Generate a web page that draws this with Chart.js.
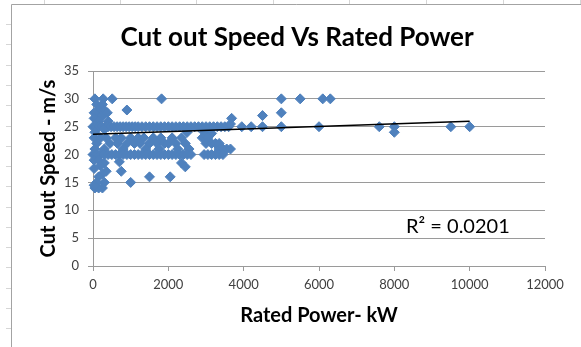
<!DOCTYPE html>
<html>
<head>
<meta charset="utf-8">
<script src="https://cdn.jsdelivr.net/npm/chart.js@4.4.1/dist/chart.umd.min.js"></script>
<style>
html, body { margin: 0; padding: 0; background: #fff; }
canvas { display: block; }
</style>
</head>
<body>
<canvas id="chartCutOut" width="581" height="347"></canvas>
<script>
// turbine rated power (kW) and cut-out wind speed (m/s), one entry per turbine
const ratedPower = [
  50, 270, 510, 1820, 5000, 5500, 6100, 6300,
  100, 250, 150, 300, 100, 250, 380, 900, 30, 30, 400, 150,
  0, 80, 160, 240, 320, 400, 480, 560, 640, 720, 800, 880, 960, 1040, 1120, 1200, 1300, 1400, 1500, 1600,
  1700, 1800, 1900, 2000, 2100, 2200, 2300, 2400, 2500, 2600, 2700, 2800, 2900, 3000, 3100, 3200, 3300, 3400, 3500, 3600,
  3680, 3650, 3950, 4200, 4500, 4500, 5000, 5000, 6000, 7600, 8000, 8000, 9500, 10000,
  50, 300, 2500, 2950, 3150,
  30, 200, 350, 600, 750, 1000, 1200, 1350, 1600, 1800, 2100, 2350, 2900, 3050,
  100, 450, 650, 900, 1100, 1250, 1500, 1700, 1900, 2000, 2200, 2450, 3000, 3150, 3250, 3350,
  50, 300, 800, 1400, 1750, 2250, 2550, 3350, 3450, 3550, 3650,
  0, 100, 200, 300, 400, 500, 600, 700, 800, 900, 1000, 1100, 1200, 1300, 1400, 1500, 1600,
  1700, 1800, 1900, 2000, 2100, 2200, 2300, 2400, 2500, 2600, 2950, 3050, 3150, 3250, 3350, 3450,
  30, 150, 300, 700, 2350, 2450, 200, 30, 750, 350, 250, 1500, 2050, 150, 1000, 300, 100, 50, 150, 250, 30
];
const cutOutSpeed = [
  30, 30, 30, 30, 30, 30, 30, 30,
  29, 29, 28, 28, 27, 27, 27.5, 28, 27.5, 26.5, 26, 26,
  25, 25, 25, 25, 25, 25, 25, 25, 25, 25, 25, 25, 25, 25, 25, 25, 25, 25, 25, 25,
  25, 25, 25, 25, 25, 25, 25, 25, 25, 25, 25, 25, 25, 25, 25, 25, 25, 25, 25, 25,
  26.5, 25.5, 25, 25, 25, 27, 25, 27.5, 25, 25, 25, 24, 25, 25,
  24, 24.5, 24, 24, 23.8,
  23, 23, 23, 23, 23, 23, 23, 23, 23, 23, 23, 23, 23, 23,
  22, 22, 22, 22, 22, 22, 22, 22, 22, 22, 22, 22, 22, 22, 22, 22,
  21, 21, 21, 21, 21, 21, 21, 21, 21, 21, 21,
  20, 20, 20, 20, 20, 20, 20, 20, 20, 20, 20, 20, 20, 20, 20, 20, 20,
  20, 20, 20, 20, 20, 20, 20, 20, 20, 20, 20, 20, 20, 20, 20, 20,
  19, 19, 18.5, 18.7, 18.5, 17.8, 18, 17.5, 17, 17, 16.5, 16, 16, 16, 15, 15, 15, 14, 14, 14, 14.5
];

// linear trendline end points and its fit
const trendPower = [0, 10000];
const trendSpeed = [23.65, 26.0];
const rSquared = 0.0201;

const xTicks = [0, 2000, 4000, 6000, 8000, 10000, 12000];
const yTicks = [0, 5, 10, 15, 20, 25, 30, 35];

const gridGrey = '#9a9a9a';

// worksheet edge around the embedded chart
const sheetFrame = {
  id: 'sheetFrame',
  beforeDraw(chart) {
    const ctx = chart.ctx;
    ctx.save();
    ctx.fillStyle = '#fff';
    ctx.fillRect(0, 0, chart.width, chart.height);
    ctx.strokeStyle = '#d6d6d6';
    ctx.lineWidth = 1;
    ctx.beginPath();
    [24, 44, 65, 85, 105, 126, 146, 166, 186, 207, 227, 247, 267, 288, 308, 328].forEach(y => {
      ctx.moveTo(6, y + 0.5); ctx.lineTo(11, y + 0.5);
    });
    [44, 120, 196, 273, 349, 426, 503, 580].forEach(x => {
      ctx.moveTo(x + 0.5, 0); ctx.lineTo(x + 0.5, 4);
    });
    ctx.stroke();
    ctx.strokeStyle = '#a3a3a3';
    ctx.beginPath();
    ctx.moveTo(11.5, chart.height); ctx.lineTo(11.5, 4.5); ctx.lineTo(chart.width, 4.5);
    ctx.stroke();
    ctx.restore();
  }
};

// chart heading and the R² note of the trendline
const chartText = {
  id: 'chartText',
  afterDraw(chart) {
    const ctx = chart.ctx;
    ctx.save();
    ctx.fillStyle = '#000';
    ctx.textBaseline = 'alphabetic';
    ctx.textAlign = 'center';
    ctx.font = 'bold 26px Lato';
    ctx.fillText('Cut out Speed Vs Rated Power', 297, 46);
    ctx.textAlign = 'left';
    ctx.font = '20px Lato';
    ctx.fillText('R\u00B2 = ' + rSquared.toFixed(4), 406, 233);
    ctx.restore();
  }
};

new Chart(document.getElementById('chartCutOut').getContext('2d'), {
  type: 'scatter',
  data: {
    datasets: [{
      type: 'line',
      label: 'Linear (Cut out Speed)',
      data: trendPower.map((x, i) => ({ x: x, y: trendSpeed[i] })),
      borderColor: '#000',
      borderWidth: 1.5,
      pointRadius: 0,
      fill: false,
      order: 0
    }, {
      label: 'Cut out Speed',
      data: ratedPower.map((x, i) => ({ x: x, y: cutOutSpeed[i] })),
      pointStyle: 'rectRot',
      pointRadius: 5,
      backgroundColor: '#4F81BD',
      borderColor: '#4F81BD',
      borderWidth: 1,
      clip: false,
      order: 1
    }]
  },
  options: {
    responsive: false,
    animation: false,
    devicePixelRatio: 1,
    layout: { padding: { top: 71, left: 20, right: 36, bottom: 10 } },
    plugins: {
      legend: { display: false },
      tooltip: { enabled: false }
    },
    scales: {
      x: {
        type: 'linear',
        min: 0,
        max: 12000,
        afterBuildTicks: s => { s.ticks = xTicks.map(v => ({ value: v })); },
        afterFit: s => { s.height = 71; },
        grid: { drawOnChartArea: false, color: gridGrey, tickLength: 5 },
        border: { color: gridGrey },
        ticks: {
          font: { family: 'Lato', size: 13 },
          color: '#404040',
          padding: 6,
          maxRotation: 0,
          callback: v => String(v)
        },
        title: {
          display: true,
          text: 'Rated Power- kW',
          font: { family: 'Lato', size: 20, weight: 'bold' },
          color: '#000',
          padding: { top: 0, bottom: 9 }
        }
      },
      y: {
        min: 0,
        max: 35,
        afterBuildTicks: s => { s.ticks = yTicks.map(v => ({ value: v })); },
        afterFit: s => { s.width = 73; },
        grid: { color: gridGrey, tickLength: 5 },
        border: { color: gridGrey },
        ticks: { font: { family: 'Lato', size: 13 }, color: '#404040', padding: 9 },
        title: {
          display: true,
          text: 'Cut out Speed - m/s',
          font: { family: 'Lato', size: 20, weight: 'bold' },
          color: '#000',
          padding: { top: 17, bottom: 0 }
        }
      }
    }
  },
  plugins: [sheetFrame, chartText]
});
</script>
</body>
</html>
